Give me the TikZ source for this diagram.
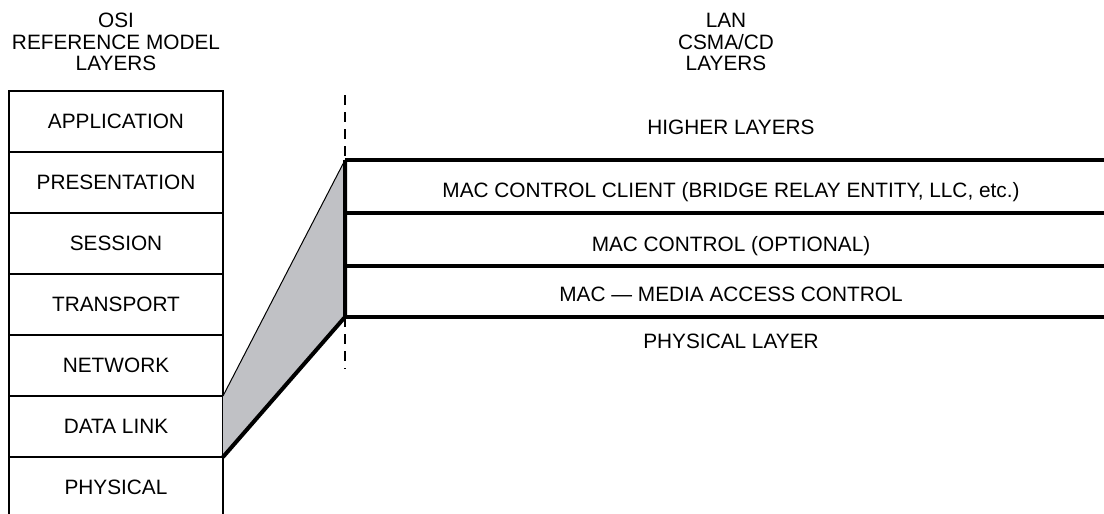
\documentclass[tikz,border=0pt]{standalone}
\usepackage{fontspec}
\setmainfont{Liberation Sans}
\usetikzlibrary{positioning}
\definecolor{wedgegray}{RGB}{192,193,197}

\begin{document}
\begin{tikzpicture}[
  x=0.5pt,y=-0.5pt,
  every node/.style={font=\fontsize{10.4}{10.8}\selectfont},
  osilayer/.style={draw,line width=1.4pt,minimum width=107pt,
    minimum height=30.5pt,inner sep=0pt,outer sep=0pt,
    text height=7.4pt,text depth=0pt},
  lanlabel/.style={inner sep=0pt,text height=7.4pt,text depth=0pt},
  title/.style={align=center,inner sep=0pt},
  sep/.style={line width=1.6pt},
  guide/.style={line width=1.4pt,dash pattern=on 5pt off 3.5pt}
]
\useasboundingbox (0,0) rectangle (1104,514);

% OSI side
\node[title] (osititle) at (116,42) {OSI\\REFERENCE MODEL\\LAYERS};
\node[osilayer] (app) at (116,121.5) {APPLICATION};
\node[osilayer,below=0pt of app] (pres) {PRESENTATION};
\node[osilayer,below=0pt of pres] (ses) {SESSION};
\node[osilayer,below=0pt of ses] (trans) {TRANSPORT};
\node[osilayer,below=0pt of trans] (net) {NETWORK};
\node[osilayer,below=0pt of net] (dl) {DATA LINK};
\node[osilayer,draw=none,below=0pt of dl] (phy) {PHYSICAL};
\draw[line width=1.4pt] (phy.north west) -- (phy.south west);
\draw[line width=1.4pt] (phy.north east) -- (phy.south east);

% LAN side
\node[title] (lantitle) at (726,42) {LAN\\CSMA/CD\\LAYERS};
\coordinate (top) at (345,160);
\coordinate (bot) at (345,317);
\node[lanlabel] (higher) at (731,127) {HIGHER LAYERS};
\node[lanlabel] (client) at (731,190.5) {MAC CONTROL CLIENT (BRIDGE RELAY ENTITY, LLC, etc.)};
\node[lanlabel] (macctl) at (731,244.5) {MAC CONTROL (OPTIONAL)};
\node[lanlabel] (mac) at (731,294.5) {MAC \textemdash{} MEDIA ACCESS CONTROL};
\node[lanlabel] (phys) at (731,341) {PHYSICAL LAYER};

\draw[sep] (top) -- (1110,160);
\draw[sep] (345,213) -- (1110,213);
\draw[sep] (345,266) -- (1110,266);
\draw[sep] (bot) -- (1110,317);

% mapping wedge
\fill[wedgegray] (top) -- (bot) -- (dl.south east) -- (dl.north east) -- cycle;
\draw[line width=0.5pt] (top) -- (dl.north east);
\draw[line width=2pt,line join=bevel] (top) -- (bot) -- (dl.south east);
\draw[guide] (345,95) -- (top);
\draw[guide] (bot) -- (345,369);
\end{tikzpicture}
\end{document}
